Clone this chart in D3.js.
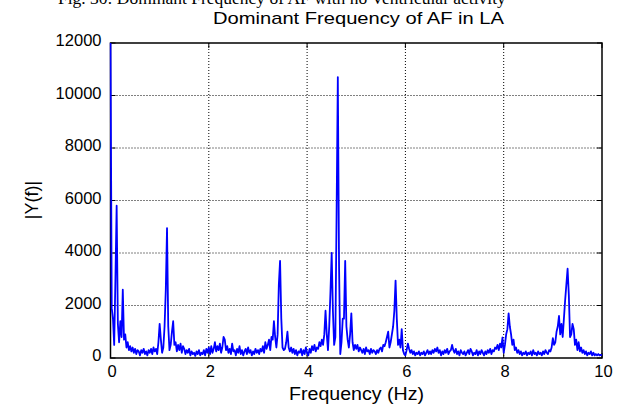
<!DOCTYPE html>
<html>
<head>
<meta charset="utf-8">
<script src="https://cdn.jsdelivr.net/npm/d3@7"></script>
<style>
  body { margin: 0; background: #fff; }
  svg text { font-family: "Liberation Sans", Arial, sans-serif; fill: #000; }
</style>
</head>
<body>
<div id="chart"></div>
<script>
// FFT bin spacing (Hz) and magnitude per bin
const binHz = 0.025;
const magnitude = [
  12000, 1900, 1500, 500, 3000, 5800, 1300, 600, 1400, 800,
  2600, 700, 900, 400, 600, 300, 450, 250, 400, 200,
  350, 150, 300, 250, 100, 300, 200, 350, 150, 250,
  100, 300, 200, 350, 150, 400, 250, 350, 150, 600,
  1300, 700, 200, 400, 1200, 2600, 4950, 1200, 300, 500,
  1000, 1400, 500, 600, 250, 500, 300, 550, 200, 450,
  350, 150, 300, 200, 350, 100, 250, 150, 200, 80,
  250, 150, 300, 100, 200, 150, 300, 100, 350, 200,
  400, 150, 450, 200, 350, 600, 250, 450, 300, 550,
  200, 400, 800, 700, 300, 450, 200, 350, 150, 550,
  250, 300, 100, 350, 200, 450, 150, 300, 100, 250,
  350, 150, 400, 200, 300, 100, 250, 150, 350, 200,
  300, 150, 350, 250, 450, 200, 600, 350, 500, 700,
  300, 800, 700, 1400, 800, 400, 900, 2800, 3700, 1500,
  400, 300, 350, 600, 1000, 400, 250, 400, 200, 350,
  150, 300, 100, 250, 200, 350, 100, 300, 150, 400,
  200, 100, 350, 200, 450, 300, 500, 250, 400, 350,
  600, 450, 700, 500, 900, 1800, 900, 300, 1200, 2500,
  4000, 1800, 500, 800, 5500, 10700, 3500, 150, 600, 1500,
  1500, 3700, 1200, 700, 400, 900, 1700, 600, 300, 500,
  350, 500, 250, 400, 300, 200, 350, 150, 400, 250,
  300, 150, 350, 200, 300, 250, 150, 300, 200, 350,
  400, 250, 500, 450, 600, 800, 1000, 400, 600, 900,
  1200, 1800, 2950, 1500, 500, 700, 400, 1100, 300, 150,
  100, 300, 550, 350, 200, 300, 150, 250, 100, 200,
  150, 250, 100, 200, 150, 250, 100, 200, 300, 150,
  250, 150, 300, 200, 350, 250, 400, 200, 300, 100,
  250, 150, 300, 200, 350, 150, 250, 300, 500, 300,
  200, 350, 150, 250, 100, 300, 200, 150, 250, 100,
  200, 300, 150, 350, 250, 100, 200, 150, 300, 100,
  250, 150, 300, 200, 100, 250, 150, 300, 200, 350,
  150, 300, 250, 400, 350, 500, 300, 550, 400, 780,
  200, 500, 900, 1100, 1700, 1200, 900, 500, 700, 300,
  400, 200, 300, 150, 250, 100, 200, 150, 250, 100,
  200, 150, 250, 100, 300, 150, 200, 100, 250, 150,
  200, 100, 250, 150, 300, 200, 150, 300, 250, 400,
  760, 500, 600, 1000, 1200, 1600, 900, 1300, 800, 1500,
  2200, 2800, 3400, 2400, 800, 900, 1300, 1100, 500, 700,
  300, 600, 250, 400, 200, 300, 150, 250, 100, 200,
  150, 250, 100, 200, 100, 150, 100, 150, 100, 120,
  100
];
const xTicks = [0, 2, 4, 6, 8, 10];
const yTicks = [0, 2000, 4000, 6000, 8000, 10000, 12000];

const figCaption = "Fig. 30:  Dominant Frequency of AF with no Ventricular activity";
const chartTitle = "Dominant Frequency of AF in LA";
const xLabel = "Frequency (Hz)";
const yLabel = "|Y(f)|";

const W = 617, H = 410;
const plot = { left: 110.5, right: 602, top: 43, bottom: 358 };

const svg = d3.select("#chart").append("svg")
  .attr("width", W).attr("height", H);

const x = d3.scaleLinear().domain([0, 10]).range([plot.left, plot.right]);
const y = d3.scaleLinear().domain([0, 12000]).range([plot.bottom, plot.top]);

// caption of the page above, cut by the top edge like in the scan
svg.append("text")
  .attr("x", 58).attr("y", 4)
  .style("font-family", "'Liberation Serif', 'Times New Roman', serif")
  .style("font-size", "17.5px")
  .text(figCaption);

// grid
const grid = svg.append("g").attr("stroke", "#000").attr("stroke-width", 1)
  .attr("stroke-dasharray", "1,2");
xTicks.slice(1, -1).forEach(t => {
  grid.append("line").attr("x1", x(t)).attr("x2", x(t))
    .attr("y1", plot.top).attr("y2", plot.bottom);
});
yTicks.slice(1, -1).forEach(t => {
  grid.append("line").attr("x1", plot.left).attr("x2", plot.right)
    .attr("y1", y(t)).attr("y2", y(t));
});

// axes box + inward ticks
svg.append("rect")
  .attr("x", plot.left).attr("y", plot.top)
  .attr("width", plot.right - plot.left).attr("height", plot.bottom - plot.top)
  .attr("fill", "none").attr("stroke", "#000").attr("stroke-width", 1.5);

const ticks = svg.append("g").attr("stroke", "#000").attr("stroke-width", 1);
const tl = 5;
xTicks.forEach(t => {
  ticks.append("line").attr("x1", x(t)).attr("x2", x(t)).attr("y1", plot.bottom).attr("y2", plot.bottom - tl);
  ticks.append("line").attr("x1", x(t)).attr("x2", x(t)).attr("y1", plot.top).attr("y2", plot.top + tl);
});
yTicks.forEach(t => {
  ticks.append("line").attr("x1", plot.left).attr("x2", plot.left + tl).attr("y1", y(t)).attr("y2", y(t));
  ticks.append("line").attr("x1", plot.right).attr("x2", plot.right - tl).attr("y1", y(t)).attr("y2", y(t));
});

// spectrum (drawn over the box, as in the original)
svg.append("clipPath").attr("id", "clip").append("rect")
  .attr("x", plot.left - 1).attr("y", plot.top - 1)
  .attr("width", plot.right - plot.left + 2).attr("height", plot.bottom - plot.top + 2);

const line = d3.line()
  .x((d, i) => x(i * binHz))
  .y(d => y(d));

svg.append("path")
  .datum(magnitude)
  .attr("clip-path", "url(#clip)")
  .attr("fill", "none")
  .attr("stroke", "#0000ff")
  .attr("stroke-width", 1.8)
  .attr("stroke-linejoin", "round")
  .attr("d", line);

// tick labels
svg.append("g").selectAll("text").data(xTicks).join("text")
  .attr("x", d => x(d) + 1.5).attr("y", 377)
  .attr("text-anchor", "middle")
  .style("font-size", "16.5px")
  .text(d => d);

svg.append("g").selectAll("text").data(yTicks).join("text")
  .attr("x", plot.left - 9).attr("y", d => y(d) + 3)
  .attr("text-anchor", "end")
  .style("font-size", "16.5px")
  .text(d => d);

// titles
svg.append("text")
  .attr("x", 213).attr("y", 24)
  .attr("textLength", 291).attr("lengthAdjust", "spacingAndGlyphs")
  .style("font-size", "17px")
  .text(chartTitle);

svg.append("text")
  .attr("x", 289).attr("y", 400)
  .attr("textLength", 135).attr("lengthAdjust", "spacingAndGlyphs")
  .style("font-size", "17.5px")
  .text(xLabel);

svg.append("text")
  .attr("transform", "translate(38,200) rotate(-90)")
  .attr("text-anchor", "middle")
  .style("font-size", "18px")
  .text(yLabel);
</script>
</body>
</html>
